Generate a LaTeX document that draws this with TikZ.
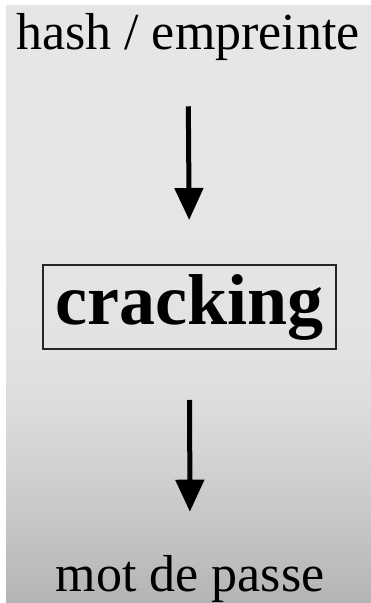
\documentclass[tikz,border=0pt]{standalone}
\usepackage{fontspec}
\setmainfont{Liberation Serif}
\usetikzlibrary{arrows.meta}
\definecolor{bgA}{HTML}{B4B4B4}
\definecolor{bgB}{HTML}{C0C0C0}
\definecolor{bgC}{HTML}{CFCFCF}
\definecolor{bgD}{HTML}{DDDDDD}
\definecolor{bgE}{HTML}{E2E2E2}
\definecolor{bgF}{HTML}{E6E6E6}
\pgfdeclareverticalshading{bgshade}{100bp}{color(0bp)=(bgA); color(25bp)=(bgA); color(29.4bp)=(bgB); color(35.3bp)=(bgC); color(42bp)=(bgD); color(46.2bp)=(bgE); color(60bp)=(bgF); color(75bp)=(bgF); color(100bp)=(bgF)}
\tikzset{
  lbl/.style={inner sep=0pt, anchor=base, font=\fontsize{52}{60}\selectfont},
  boxed/.style={draw=black!85, line width=2pt, inner sep=0pt, minimum width=293pt, minimum height=84pt, font=\fontsize{72}{80}\selectfont\bfseries},
  arr/.style={line width=5pt, -{Triangle[width=28pt,length=32pt]}}
}
\begin{document}
\begin{tikzpicture}[x=1pt,y=1pt]
\useasboundingbox (0,0) rectangle (371,603);
\fill[white] (0,0) rectangle (371,603);
\shade[shading=bgshade] (6,0) rectangle (371,597);
\node[lbl] (top) at (188,553) {hash / empreinte};
\node[boxed] (box) at (189.5,296) {cracking};
\node[lbl] (bot) at (190,12) {mot de passe};
\draw[arr, shorten <=45pt, shorten >=44pt] (top.south) -- (box.north);
\draw[arr, shorten <=50pt, shorten >=43pt] (box.south) -- (bot.north);
\end{tikzpicture}
\end{document}
